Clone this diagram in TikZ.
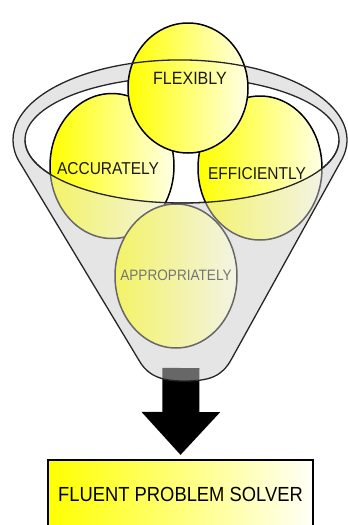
\documentclass[tikz,border=0pt]{standalone}
\usepackage{fontspec}
\setmainfont{Liberation Sans}[FakeStretch=0.9]
\usetikzlibrary{shapes.geometric,arrows.meta}

\begin{document}
\begin{tikzpicture}[
        x=1pt, y=-1pt,
        ball/.style={ellipse, draw, line width=1.5pt, inner sep=0pt,
            left color=yellow, right color=yellow!10},
        word/.style={inner sep=0pt, text=black!90, font=\fontsize{17.2}{20}\selectfont},
        funnel/.style={draw=black!85, line width=1.3pt},
        front/.style={fill=gray!20, opacity=.45}
    ]
    \useasboundingbox (0,0) rectangle (348,525);
    \def\conepath{(19.5,162) -- (140,362)
        .. controls (150,378) and (165,381) .. (185,381)
        .. controls (210,381) and (222,376) .. (231,360)
        -- (340.5,162) arc[start angle=16, end angle=-196, x radius=167, y radius=80] -- cycle}

    \fill[gray!20] \conepath;
    \draw[funnel, fill=white] (182,140) ellipse[x radius=157, y radius=63];

    \node[draw, line width=1.6pt, left color=yellow, right color=yellow!3,
        minimum width=265pt, minimum height=70pt, anchor=north,
        font=\fontsize{20.4}{24}\selectfont] (solver) at (180.5,459) {FLUENT PROBLEM SOLVER};
    \coordinate (spout) at (181,368);
    \draw[line width=37pt, -{Triangle[length=43pt, width=76pt]}, shorten >=4pt] (spout) -- (solver.north);

    \node[ball, minimum width=124pt, minimum height=145pt] (accu) at (112,166) {};
    \node[ball, minimum width=124pt, minimum height=144pt] (effi) at (260,168) {};
    \node[ball, minimum width=122pt, minimum height=144pt] (appr) at (176,276) {};
    \node[ball, minimum width=120pt, minimum height=130pt] (flex) at (188,88) {};
    \node[word] (accuw) at (108,169) {ACCURATELY};
    \node[word] (effiw) at (257,174) {EFFICIENTLY};
    \node[word, font=\fontsize{15.1}{18}\selectfont] (apprw) at (176,275.5) {APPROPRIATELY};
    \node[word, font=\fontsize{17.8}{21}\selectfont] (flexw) at (190,78) {FLEXIBLY};

    \begin{scope}
        \clip \conepath;
        \fill[front] (0,140) -- (25,140) arc[start angle=180, end angle=0, x radius=157, y radius=63]
            -- (348,140) -- (348,400) -- (0,400) -- cycle;
    \end{scope}
    \draw[funnel] \conepath;
    \draw[funnel] (25,140) arc[start angle=180, end angle=0, x radius=157, y radius=63];
\end{tikzpicture}
\end{document}
